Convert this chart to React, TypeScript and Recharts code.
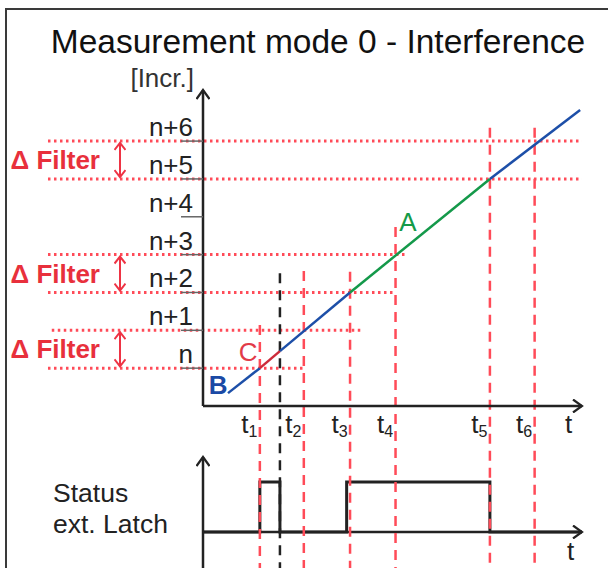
import { ComposedChart, Line, XAxis, YAxis, ReferenceLine, ReferenceDot } from 'recharts';

// time axis in arbitrary units (0..10), increments: level 1 = n, 2 = n+1 ...
const pathT = [0.66, 1.5, 2.03, 3.88, 7.57, 9.95];
const pathIncr = [0.34, 1.0, 1.45, 3.0, 6.0, 7.82];
const pathColors = ['#1d4fa8', '#cc2a3a', '#1d4fa8', '#14994a', '#1d4fa8'];

const incrTicks = [1, 2, 3, 4, 5, 6, 7];
const incrTickLabels = ['n', 'n+1', 'n+2', 'n+3', 'n+4', 'n+5', 'n+6'];

const tMarks = [1.5, 2.66, 3.88, 5.08, 7.57, 8.75];
const tMarkLabels = ['1', '2', '3', '4', '5', '6'];
const tMarkTops = [2.14, 3.57, 3.55, 4.73, 7.35, 7.35];

const latchT = 2.03;
const latchTop = 3.51;

const filterLevels = [1, 2, 3, 4, 6, 7];
const filterLevelStarts = [-4.09, -3.99, -4.09, -4.09, -4.09, -4.09];
const filterLevelEnds = [2.69, 4.2, 5.01, 5.33, 10, 10];
const filterBands = [[6, 7], [3, 4], [1, 2]];

const statusT = [0, 1.5, 2.03, 3.79, 7.57, 10];
const statusVal = [0, 1, 0, 1, 0, 0];

const pathLabels = ['A', 'B', 'C'];
const pathLabelT = [5.41, 0.4, 1.19];
const pathLabelIncr = [4.86, 0.55, 1.43];
const pathLabelColors = ['#149a48', '#1b4aa5', '#e23a48'];

const BOTTOM = -4.28;
const RED = '#ff4b58';
const DARK = '#222';

const pathData = pathT.map((t, i) => {
  const row: Record<string, number> = { t };
  if (i > 0) row[`s${i - 1}`] = pathIncr[i];
  if (i < pathT.length - 1) row[`s${i}`] = pathIncr[i];
  return row;
});

const statusData = statusT.map((t, i) => ({ t, latch: statusVal[i] }));

const IncrTick = ({ x, y, payload }: any) => (
  <text x={x + 14} y={y - 5} textAnchor="end" fontSize={26} fill={DARK}>
    {incrTickLabels[incrTicks.indexOf(payload.value)]}
  </text>
);

const TimeTick = ({ x, y, payload }: any) => (
  <text x={x - 2.5} y={y + 27} textAnchor="end" fontSize={26} fill={DARK}>
    t<tspan fontSize={16} dy={4}>{tMarkLabels[tMarks.indexOf(payload.value)]}</tspan>
  </text>
);

const App = () => {
  return (
    <div
      style={{
        position: 'absolute',
        left: 0,
        top: 0,
        width: 608,
        height: 568,
        background: '#fff',
        overflow: 'hidden',
        fontFamily: '"Liberation Sans", Arial, sans-serif',
      }}
    >
      <svg width={0} height={0} style={{ position: 'absolute' }}>
        <defs>
          <marker id="arrowK" viewBox="0 0 14 14" refX={11} refY={7} markerWidth={14} markerHeight={14}
            markerUnits="userSpaceOnUse" orient="auto-start-reverse">
            <path d="M2,0.5 L11,7 L2,13.5" fill="none" stroke={DARK} strokeWidth={2.2} />
          </marker>
          <marker id="arrowR" viewBox="0 0 12 12" refX={10} refY={6} markerWidth={12} markerHeight={12}
            markerUnits="userSpaceOnUse" orient="auto-start-reverse">
            <path d="M3,0.5 L10,6 L3,11.5" fill="none" stroke="#ee3344" strokeWidth={2} />
          </marker>
        </defs>
      </svg>

      <div
        style={{
          position: 'absolute',
          left: 5,
          top: 8,
          width: 620,
          height: 600,
          borderLeft: '2px solid #3a3a3a',
          borderTop: '2px solid #3a3a3a',
        }}
      />

      {/* status of the external latch */}
      <div style={{ position: 'absolute', left: 0, top: 0 }}>
        <ComposedChart width={608} height={568} data={statusData}
          margin={{ top: 457, right: 26, bottom: 0, left: 143 }}>
          <XAxis dataKey="t" type="number" domain={[0, 10]} allowDataOverflow hide />
          <YAxis type="number" domain={[-0.72, 1.5]} allowDataOverflow width={60} tick={false} tickLine={false}
            axisLine={{ stroke: DARK, strokeWidth: 2.5, markerStart: 'url(#arrowK)' }} />
          <ReferenceLine segment={[{ x: 0, y: 0 }, { x: 10, y: 0 }]} ifOverflow="visible"
            stroke={DARK} strokeWidth={2.5} markerEnd="url(#arrowK)" />
          <Line dataKey="latch" type="stepAfter" stroke={DARK} strokeWidth={3} dot={false} activeDot={false}
            isAnimationActive={false} />
          <text x={53} y={502} fontSize={26.5} fill={DARK}>Status</text>
          <text x={53} y={533} fontSize={26.5} fill={DARK}>ext. Latch</text>
          <text x={567} y={560} fontSize={26} fill={DARK}>t</text>
        </ComposedChart>
      </div>

      {/* increments over time */}
      <div style={{ position: 'absolute', left: 0, top: 0 }}>
        <ComposedChart width={608} height={568} data={pathData}
          margin={{ top: 90, right: 26, bottom: 132, left: 143 }}>
          <XAxis dataKey="t" type="number" domain={[0, 10]} allowDataOverflow ticks={tMarks} interval={0}
            height={30} tickSize={0} tickMargin={0} tickLine={false} tick={<TimeTick />}
            axisLine={{ stroke: DARK, strokeWidth: 2.5, markerEnd: 'url(#arrowK)' }} />
          <YAxis type="number" domain={[0, 8.35]} allowDataOverflow ticks={incrTicks} interval={0} width={60}
            tickSize={22} tick={<IncrTick />} tickLine={{ stroke: '#666', strokeWidth: 1.5 }}
            axisLine={{ stroke: DARK, strokeWidth: 2.5, markerStart: 'url(#arrowK)' }} />

          {filterLevels.map((lv, i) => (
            <ReferenceLine key={`f${lv}`} ifOverflow="visible"
              segment={[{ x: filterLevelStarts[i], y: lv }, { x: filterLevelEnds[i], y: lv }]}
              stroke={RED} strokeWidth={3} strokeDasharray="2.5 3.5" />
          ))}

          {filterBands.map(([lo, hi]) => (
            <ReferenceLine key={`b${lo}`} ifOverflow="visible"
              segment={[{ x: -2.19, y: hi - 0.05 }, { x: -2.19, y: lo + 0.05 }]}
              stroke="#ee3344" strokeWidth={2} markerStart="url(#arrowR)" markerEnd="url(#arrowR)"
              label={{ value: 'Δ Filter', position: 'left', offset: 20, fill: '#e8303c', fontSize: 26, fontWeight: 'bold' }} />
          ))}

          {tMarks.map((t, i) => (
            <ReferenceLine key={`t${i}`} ifOverflow="visible"
              segment={[{ x: t, y: tMarkTops[i] }, { x: t, y: BOTTOM }]}
              stroke={RED} strokeWidth={2.5} strokeDasharray="10 7" />
          ))}
          <ReferenceLine ifOverflow="visible" segment={[{ x: latchT, y: latchTop }, { x: latchT, y: BOTTOM }]}
            stroke={DARK} strokeWidth={2.5} strokeDasharray="10 7" />

          {pathColors.map((c, k) => (
            <Line key={`s${k}`} dataKey={`s${k}`} type="linear" stroke={c} strokeWidth={2.5} dot={false}
              activeDot={false} connectNulls={false} isAnimationActive={false} />
          ))}

          {pathLabels.map((l, i) => (
            <ReferenceDot key={l} x={pathLabelT[i]} y={pathLabelIncr[i]} r={0} ifOverflow="visible"
              fill="none" stroke="none"
              label={{ value: l, position: 'center', fill: pathLabelColors[i], fontSize: 26,
                fontWeight: l === 'B' ? 'bold' : 'normal' }} />
          ))}

          <text x={318} y={53} textAnchor="middle" fontSize={33.5} fill="#111">Measurement mode 0 - Interference</text>
          <text x={194} y={87} textAnchor="end" fontSize={26} fill="#333">[Incr.]</text>
          <text x={565} y={433} fontSize={26} fill={DARK}>t</text>
        </ComposedChart>
      </div>
    </div>
  );
};

export default App;
